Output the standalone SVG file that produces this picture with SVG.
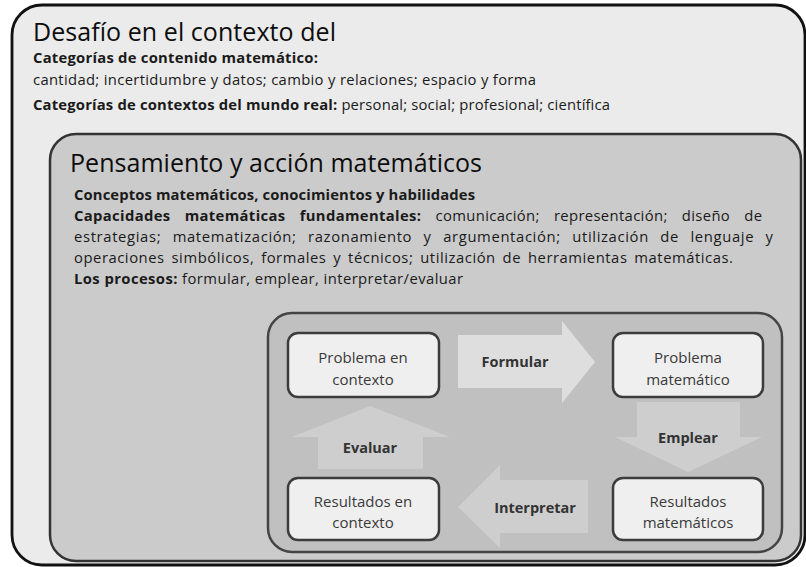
<svg xmlns="http://www.w3.org/2000/svg" width="806" height="567" viewBox="0 0 806 567">
<style>
.t{font-family:"Open Sans","Noto Sans","Liberation Sans",sans-serif;fill:#1a1a1a}
.h{font-size:25px;fill:#0d0d0d}
.b{font-size:14.8px;font-weight:bold}
.r{font-size:14.8px}
.n{font-family:"Open Sans","Noto Sans","Liberation Sans",sans-serif;font-size:15px;fill:#3a3a3a;text-anchor:middle}
.al{font-family:"Open Sans","Noto Sans","Liberation Sans",sans-serif;font-size:14.5px;font-weight:bold;fill:#333;text-anchor:middle}
.node{fill:#efefef;stroke:#3c3c3c;stroke-width:2.5}
</style>
<rect x="0" y="0" width="806" height="567" fill="#ffffff"/>
<g id="outer">
<rect x="12" y="5" width="793" height="560" rx="30" fill="#ebebeb" stroke="#111" stroke-width="2.8"/>
<text class="t h" x="33" y="41" textLength="303">Desafío en el contexto del</text>
<text class="t b" x="33" y="63" textLength="285">Categorías de contenido matemático:</text>
<text class="t r" x="33" y="85" textLength="503">cantidad; incertidumbre y datos; cambio y relaciones; espacio y forma</text>
<text class="t r" x="33" y="110" textLength="577"><tspan class="b">Categorías de contextos del mundo real:</tspan> personal; social; profesional; científica</text>
</g>
<g id="middle">
<rect x="50" y="134" width="751" height="427" rx="26" fill="#cbcbcb" stroke="#333" stroke-width="2.5"/>
<text class="t h" x="70" y="172" textLength="412">Pensamiento y acción matemáticos</text>
<text class="t b" x="74" y="200" textLength="401">Conceptos matemáticos, conocimientos y habilidades</text>
<text class="t r" x="74" y="221" word-spacing="10" textLength="688"><tspan class="b">Capacidades matemáticas fundamentales:</tspan> comunicación; representación; diseño de</text>
<text class="t r" x="74" y="242" word-spacing="7" textLength="699">estrategias; matematización; razonamiento y argumentación; utilización de lenguaje y</text>
<text class="t r" x="74" y="263" word-spacing="2.5" textLength="659">operaciones simbólicos, formales y técnicos; utilización de herramientas matemáticas.</text>
<text class="t r" x="74" y="284" textLength="389"><tspan class="b">Los procesos:</tspan> formular, emplear, interpretar/evaluar</text>
</g>
<g id="inner">
<rect x="268" y="313" width="514" height="239" rx="24" fill="#c0c0c0" stroke="#444" stroke-width="2.5"/>
</g>
<g id="connectors">
<polygon id="formular" points="458,335 562,335 562,321 595,362 562,403 562,388 458,388" fill="#dedede"/>
<polygon id="emplear" points="637,402 740,402 740,437 762,437 688,472 615,437 637,437" fill="#cecece"/>
<polygon id="interpretar" points="458,507 500,465 500,480 588,480 588,533 500,533 500,548" fill="#cecece"/>
<polygon id="evaluar" points="370,406 450,437 423,437 423,469 318,469 318,437 292,437" fill="#cecece"/>
<text class="al" x="515" y="367">Formular</text>
<text class="al" x="688" y="443">Emplear</text>
<text class="al" x="535" y="513">Interpretar</text>
<text class="al" x="370" y="453">Evaluar</text>
</g>
<g id="n1"><rect class="node" x="288" y="333" width="151" height="64" rx="10"/>
<text class="n" x="363" y="363">Problema en</text><text class="n" x="363" y="385">contexto</text></g>
<g id="n2"><rect class="node" x="613" y="333" width="150" height="64" rx="10"/>
<text class="n" x="688" y="363">Problema</text><text class="n" x="688" y="385">matemático</text></g>
<g id="n3"><rect class="node" x="613" y="478" width="150" height="62" rx="10"/>
<text class="n" x="688" y="507">Resultados</text><text class="n" x="688" y="528">matemáticos</text></g>
<g id="n4"><rect class="node" x="288" y="478" width="151" height="62" rx="10"/>
<text class="n" x="363" y="507">Resultados en</text><text class="n" x="363" y="528">contexto</text></g>
</svg>
